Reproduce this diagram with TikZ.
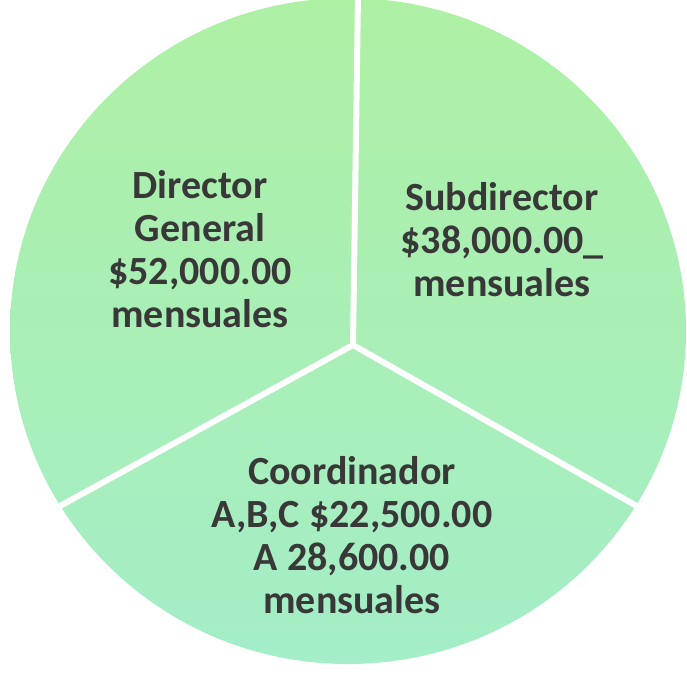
\documentclass[tikz,border=0pt]{standalone}
\usepackage{fontspec}
\setmainfont{Carlito}
\definecolor{pietop}{HTML}{AEF0A4}
\definecolor{piebottom}{HTML}{A4EEC8}
\definecolor{ink}{HTML}{383838}
\tikzset{
  slice/.style={align=center, text=ink, font=\fontsize{40}{43}\selectfont\bfseries},
  cut/.style={white, line width=6pt}
}
\begin{document}
\begin{tikzpicture}[x=1pt, y=-1pt]
      \useasboundingbox (0,0) rectangle (687,678);
      \clip (0,0) rectangle (687,678);
      \shade[top color=pietop, bottom color=piebottom]
        (348,331) ellipse [x radius=338, y radius=333];
      \coordinate (c) at (353,345);
      \coordinate (top) at (358,-5);
      \coordinate (left) at (40,517);
      \coordinate (right) at (665,522);
      \begin{scope}[cut]
        \draw (c) to (top);
        \draw (c) to (left);
        \draw (c) to (right);
      \end{scope}
      \node[slice] (dir) at (200,249) {Director\\General\\\$52,000.00\\mensuales};
      \node[slice] (sub) at (502,240) {Subdirector\\\$38,000.00\_\\mensuales};
      \node[slice] (coord) at (352,535) {Coordinador\\A,B,C \$22,500.00\\A 28,600.00\\mensuales};
    \end{tikzpicture}
\end{document}
